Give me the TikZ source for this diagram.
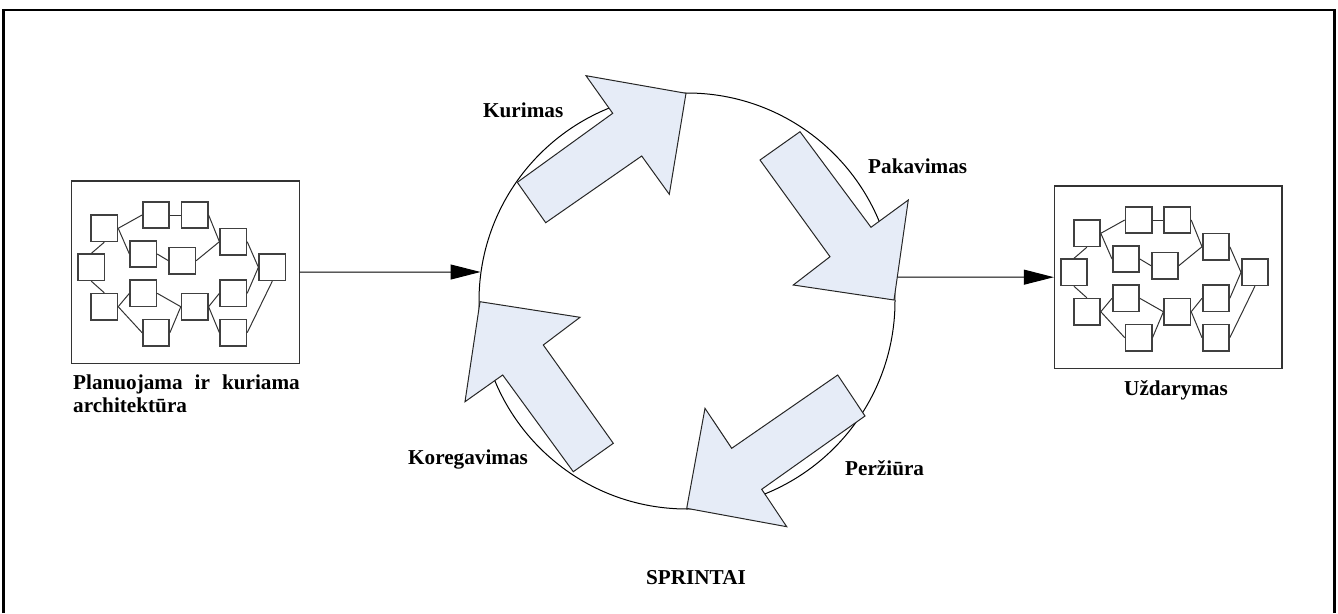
\documentclass[tikz,border=0pt]{standalone}
\usepackage{fontspec}
\setmainfont{Liberation Serif}
\usetikzlibrary{arrows.meta}
\definecolor{arrowblue}{RGB}{230,236,247}
\begin{document}
\begin{tikzpicture}[x=1pt,y=-1pt,
  lbl/.style={font=\bfseries\fontsize{21.2}{25}\selectfont, inner sep=0pt},
  bigarrow/.style={fill=arrowblue, draw=black!85, line width=1pt, line join=miter},
  netbox/.style={draw=black!80, line width=1.3pt, minimum width=227.6pt, minimum height=182.3pt, inner sep=0pt},
  task/.style={draw=black!75, line width=1.5pt, minimum size=26.3pt, inner sep=0pt},
  link/.style={draw=black!80, line width=1pt},
  flow/.style={draw=black, line width=1pt, -{Triangle[length=30pt,width=15pt]}},
]
\useasboundingbox (0,0) rectangle (1338,613);

% outer frame, open at the bottom
\draw[line width=2.6pt] (3.5,613) -- (3.5,10) -- (1334.5,10) -- (1334.5,613);

% sprint cycle
\node[draw, circle, minimum size=416pt, inner sep=0pt, line width=1pt] (cyc) at (687,301) {};

% the four sprint phase arrows
\draw[bigarrow] (517.3,182.3) -- (545.7,222.7) -- (641.7,156) -- (669.3,194.3)
  -- (686,93.3) -- (586,75.7) -- (612.7,113.3) -- cycle;
\draw[bigarrow] (800,131.7) -- (760,160) -- (830,256.7) -- (793.3,285)
  -- (894,300) -- (908.3,200) -- (871,227.3) -- cycle;
\draw[bigarrow] (837.7,375) -- (865,416) -- (761.7,489.3) -- (786.7,526.7)
  -- (686.7,508.3) -- (705,408.3) -- (731.7,448.3) -- cycle;
\draw[bigarrow] (573.3,471.7) -- (613.3,443.3) -- (543.3,345) -- (580,317.3)
  -- (480,301.7) -- (465,401.7) -- (502.7,375) -- cycle;

% architecture boxes
\node[netbox] (lbox) at (185.5,272.2) {};
\node[netbox] (rbox) at (1168.3,277.2) {};

% task networks inside both boxes
\foreach \p/\ox/\oy in {L/71.7/181, R/1054.3/186} {
  \begin{scope}[shift={(\ox,\oy)}]
    \node[task] (\p1)  at (32.6,47.3)   {};
    \node[task] (\p2)  at (84.3,34)     {};
    \node[task] (\p3)  at (123,34)      {};
    \node[task] (\p4)  at (71.6,73)     {};
    \node[task] (\p5)  at (110.6,79.7)  {};
    \node[task] (\p6)  at (161.6,60.7)  {};
    \node[task] (\p7)  at (19.6,86.3)   {};
    \node[task] (\p8)  at (200.6,86.3)  {};
    \node[task] (\p9)  at (32.6,125.7)  {};
    \node[task] (\p10) at (71.6,112.3)  {};
    \node[task] (\p11) at (84.3,151.7)  {};
    \node[task] (\p12) at (123,125.7)   {};
    \node[task] (\p13) at (161.6,112.3) {};
    \node[task] (\p14) at (161.6,151.7) {};
    \draw[link] (\p7.north) -- (\p1.south);
    \draw[link] (\p1.east) -- (\p2.west);
    \draw[link] (\p2.east) -- (\p3.west);
    \draw[link] (\p1.east) -- (\p4.west);
    \draw[link] (\p4.east) -- (\p5.west);
    \draw[link] (\p3.east) -- (\p6.west);
    \draw[link] (\p5.east) -- (\p6.west);
    \draw[link] (\p6.east) -- (\p8.west);
    \draw[link] (\p7.south) -- (\p9.north);
    \draw[link] (\p9.east) -- (\p10.west);
    \draw[link] (\p9.east) -- (\p11.west);
    \draw[link] (\p10.east) -- (\p12.west);
    \draw[link] (\p11.east) -- (\p12.west);
    \draw[link] (\p12.east) -- (\p13.west);
    \draw[link] (\p12.east) -- (\p14.west);
    \draw[link] (\p13.east) -- (\p8.west);
    \draw[link] (\p14.east) -- (\p8.south);
  \end{scope}
}

% flow into and out of the sprints
\coordinate (pkout) at (897.5,277);
\draw[flow] (lbox.east) -- (cyc.172);
\draw[flow] (pkout) -- (rbox.west);

% labels
\node[lbl, anchor=base west] (tplan) at (73,389) {Planuojama\hspace{12pt}ir\hspace{12pt}kuriama};
\node[lbl, anchor=base west] (tarch) at (73,412) {architektūra};
\node[lbl, anchor=base] (tuzd) at (1176,395) {Uždarymas};
\node[lbl, anchor=base west] (tkur) at (483,117) {Kurimas};
\node[lbl, anchor=base west] (tpak) at (868,173) {Pakavimas};
\node[lbl, anchor=base west] (tkor) at (408,464) {Koregavimas};
\node[lbl, anchor=base west] (tper) at (845,475) {Peržiūra};
\node[lbl, anchor=base] (tspr) at (696,584) {SPRINTAI};
\end{tikzpicture}
\end{document}
